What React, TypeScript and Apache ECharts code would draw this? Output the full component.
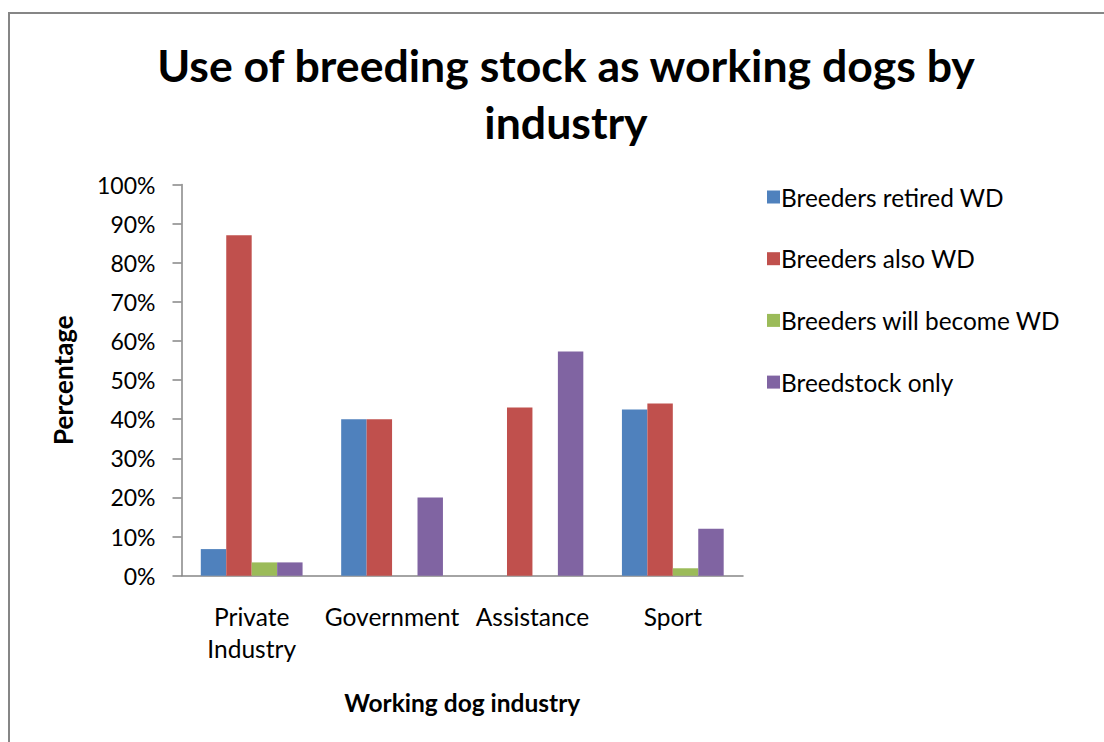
import React, { useEffect, useRef } from "react";
import * as echarts from "echarts";

const categories = ["Private\nIndustry", "Government", "Assistance", "Sport"];
const seriesNames = ["Breeders retired WD", "Breeders also WD", "Breeders will become WD", "Breedstock only"];
const retiredWD = [6.8, 40, 0, 42.5];
const alsoWD = [87, 40, 43, 44];
const willBecomeWD = [3.4, 0, 0, 1.9];
const breedstockOnly = [3.4, 20, 57.3, 12];
const colors = ["#4F81BD", "#C0504D", "#9BBB59", "#8064A2"];
const FONT = "Lato";

export default function App() {
  const ref = useRef<HTMLDivElement>(null);
  useEffect(() => {
    document.body.style.margin = "0";
    const chart = echarts.init(ref.current!, null, { renderer: "svg" });
    const data = [retiredWD, alsoWD, willBecomeWD, breedstockOnly];
    chart.setOption({
      animation: false,
      backgroundColor: "#ffffff",
      textStyle: { fontFamily: FONT },
      title: {
        text: "Use of breeding stock as working dogs by\nindustry",
        left: 561,
        top: 31,
        textAlign: "center",
        textStyle: { fontFamily: FONT, fontWeight: "bold", fontSize: 44.6, lineHeight: 57, color: "#000" },
      },
      graphic: [
        {
          type: "rect",
          shape: { x: 9, y: 13, width: 1300, height: 900 },
          style: { fill: "none", stroke: "#868686", lineWidth: 2 },
          silent: true,
        },
      ],
      legend: {
        orient: "vertical",
        left: 762,
        top: 180,
        itemWidth: 13,
        itemHeight: 13,
        itemGap: 37.7,
        icon: "rect",
        data: seriesNames,
        textStyle: { fontFamily: FONT, fontSize: 24.4, color: "#000", lineHeight: 24, padding: [0, 0, 0, -4] },
      },
      grid: { left: 181.5, top: 184.5, right: 361, bottom: 166.3, containLabel: false },
      xAxis: {
        type: "category",
        data: categories,
        name: "Working dog industry",
        nameLocation: "middle",
        nameGap: 114,
        nameTextStyle: { fontFamily: FONT, fontWeight: "bold", fontSize: 24.5, color: "#000" },
        axisLine: { lineStyle: { color: "#868686", width: 1.5 } },
        axisTick: { show: false },
        axisLabel: { fontFamily: FONT, fontSize: 24.5, color: "#000", lineHeight: 32, margin: 25, interval: 0 },
      },
      yAxis: {
        type: "value",
        min: 0,
        max: 100,
        interval: 10,
        name: "Percentage",
        nameLocation: "middle",
        nameRotate: 90,
        nameGap: 106,
        nameTextStyle: { fontFamily: FONT, fontWeight: "bold", fontSize: 26, color: "#000" },
        axisLine: { show: true, lineStyle: { color: "#868686", width: 1.5 } },
        axisTick: { show: true, length: 9, lineStyle: { color: "#868686", width: 1.5 } },
        splitLine: { show: false },
        axisLabel: { fontFamily: FONT, fontSize: 23, color: "#000", margin: 26, formatter: "{value}%" },
      },
      series: seriesNames.map((name, i) => ({
        name,
        type: "bar",
        data: data[i],
        barGap: "0%",
        barCategoryGap: "27.5%",
        itemStyle: { color: colors[i] },
      })),
    });
    return () => chart.dispose();
  }, []);
  return <div ref={ref} style={{ width: 1104, height: 742 }} />;
}
